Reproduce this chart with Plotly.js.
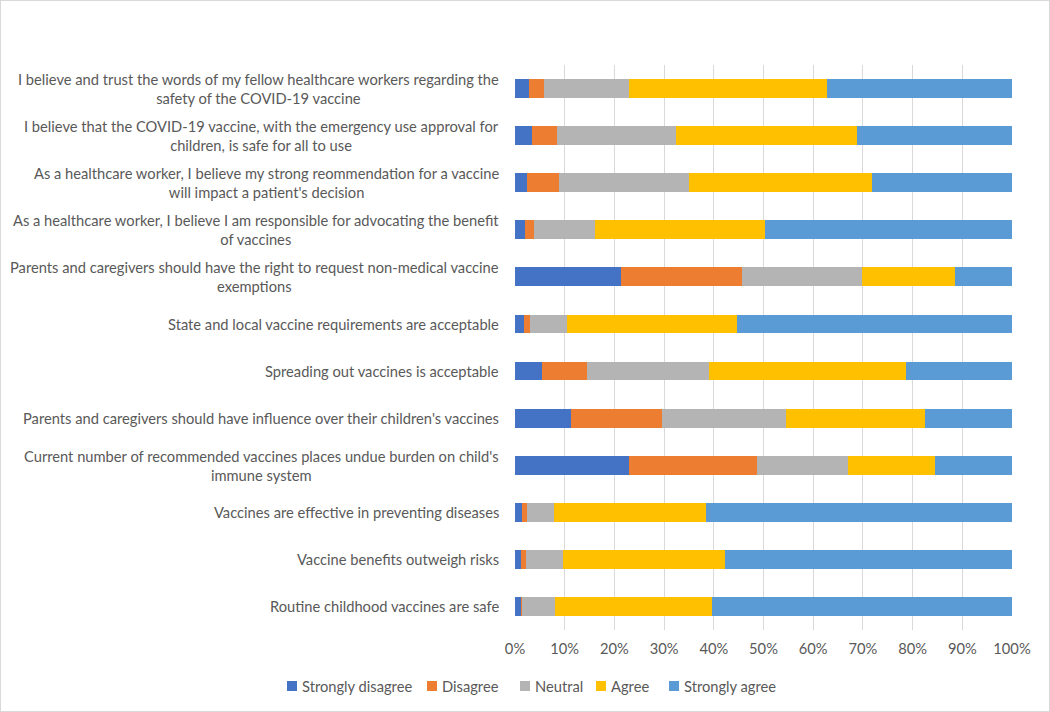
<!DOCTYPE html>
<html>
<head>
<meta charset="utf-8">
<script src="https://cdn.plot.ly/plotly-3.0.1.min.js"></script>
<style>
html,body{margin:0;padding:0;background:#fff;}
#wrap{position:relative;width:1050px;height:712px;}
#chart{width:1050px;height:712px;}
#frame{position:absolute;left:0;top:0;width:1050px;height:712px;box-sizing:border-box;border:1px solid #d9d9d9;pointer-events:none;}
</style>
</head>
<body>
<div id="wrap"><div id="chart"></div><div id="frame"></div></div>
<script>
const categories = [
  "I believe and trust the words of my fellow healthcare workers regarding the<br>safety of the COVID-19 vaccine",
  "I believe that the COVID-19 vaccine, with the emergency use approval for<br>children, is safe for all to use",
  "As a healthcare worker, I believe my strong reommendation for a vaccine<br>will impact a patient's decision",
  "As a healthcare worker, I believe I am responsible for advocating the benefit<br>of vaccines",
  "Parents and caregivers should have the right to request non-medical vaccine<br>exemptions",
  "State and local vaccine requirements are acceptable",
  "Spreading out vaccines is acceptable",
  "Parents and caregivers should have influence over their children's vaccines",
  "Current number of recommended vaccines places undue burden on child's<br>immune system",
  "Vaccines are effective in preventing diseases",
  "Vaccine benefits outweigh risks",
  "Routine childhood vaccines are safe"
];
const seriesNames = ["Strongly disagree","Disagree","Neutral","Agree","Strongly agree"];
const stronglyDisagree = [2.8, 3.4, 2.4, 2.0, 21.3, 1.8, 5.4, 11.3, 23.0, 1.5, 1.3, 1.2];
const disagree         = [3.1, 5.0, 6.4, 1.8, 24.4, 1.2, 9.1, 18.2, 25.7, 0.9, 1.0, 0.3];
const neutral          = [17.0, 24.0, 26.2, 12.2, 24.1, 7.4, 24.5, 25.0, 18.4, 5.4, 7.4, 6.5];
const agree            = [39.8, 36.4, 36.8, 34.4, 18.7, 34.3, 39.7, 27.9, 17.5, 30.6, 32.5, 31.6];
const stronglyAgree    = [37.3, 31.2, 28.2, 49.6, 11.5, 55.3, 21.3, 17.6, 15.4, 61.6, 57.8, 60.4];
const colors = ["#4472c4","#ed7d31","#b4b4b4","#ffc000","#5b9bd5"];
const tickVals = [0,10,20,30,40,50,60,70,80,90,100];
const tickText = ["0%","10%","20%","30%","40%","50%","60%","70%","80%","90%","100%"];

// plot-area geometry (pixels)
const M = {l: 515, r: 38, t: 65, b: 82};
const W = 1050, H = 712;
const PW = W - M.l - M.r, PH = H - M.t - M.b;
const px2x = p => (p - M.l) / PW;
const py2y = p => (H - M.b - p) / PH;

const allSeries = [stronglyDisagree, disagree, neutral, agree, stronglyAgree];
const traces = allSeries.map((vals, i) => ({
  type: "bar",
  orientation: "h",
  name: seriesNames[i],
  x: vals,
  y: categories,
  marker: {color: colors[i], line: {width: 0}},
  hoverinfo: "x+name"
}));

const fontFam = "Lato, 'Open Sans', sans-serif";
const labelFont = {family: fontFam, size: 14.7, color: "#595959"};
const annotations = categories.map(c => ({
  xref: "paper", yref: "y",
  x: 0, y: c,
  xanchor: "right", yanchor: "middle",
  xshift: -14,
  align: "center",
  showarrow: false,
  text: c,
  font: labelFont
}));

// custom legend laid out in one row like the original
const legendLeft = [287, 427, 520, 596, 669];
const legendY = 686;
const shapes = [];
seriesNames.forEach((n, i) => {
  shapes.push({
    type: "rect", xref: "paper", yref: "paper",
    x0: px2x(legendLeft[i]), x1: px2x(legendLeft[i] + 10),
    y0: py2y(legendY + 5), y1: py2y(legendY - 5),
    fillcolor: colors[i], line: {width: 0}
  });
  annotations.push({
    xref: "paper", yref: "paper",
    x: px2x(legendLeft[i] + 13), y: py2y(legendY),
    xanchor: "left", yanchor: "middle",
    showarrow: false, text: n,
    font: {family: fontFam, size: 14.7, color: "#595959"}
  });
});

const layout = {
  width: W, height: H,
  paper_bgcolor: "#ffffff",
  plot_bgcolor: "#ffffff",
  barmode: "stack",
  bargap: 0.6,
  margin: {l: M.l, r: M.r, t: M.t, b: M.b, autoexpand: false},
  font: {family: fontFam, size: 14, color: "#595959"},
  xaxis: {
    range: [0, 100],
    tickvals: tickVals,
    ticktext: tickText,
    showgrid: true,
    gridcolor: "#d9d9d9",
    gridwidth: 1,
    zeroline: false,
    showline: false,
    ticks: "",
    ticklabelstandoff: 8,
    tickfont: {size: 14.7, color: "#595959"},
    fixedrange: true
  },
  yaxis: {
    type: "category",
    autorange: "reversed",
    showticklabels: false,
    showgrid: false,
    zeroline: false,
    showline: false,
    ticks: "",
    fixedrange: true
  },
  shapes: shapes,
  annotations: annotations,
  showlegend: false
};

Plotly.newPlot("chart", traces, layout, {displayModeBar: false, staticPlot: true});
</script>
</body>
</html>
